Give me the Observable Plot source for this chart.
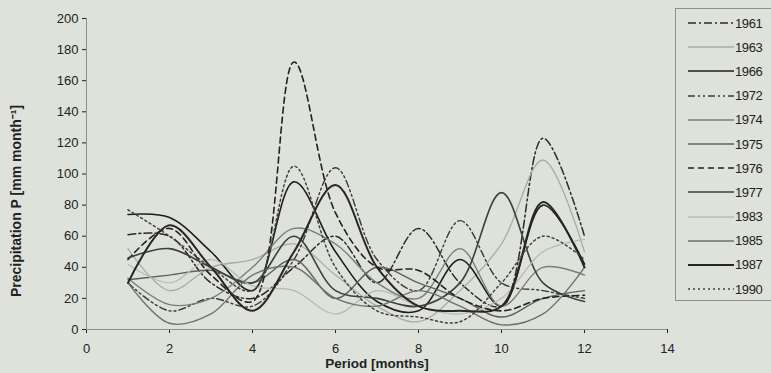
<!DOCTYPE html>
<html>
<head>
<meta charset="utf-8">
<script src="https://cdn.jsdelivr.net/npm/d3@7"></script>
<script src="https://cdn.jsdelivr.net/npm/@observablehq/plot@0.6"></script>
<style>
  html, body { margin: 0; padding: 0; background: #dee2da; overflow: hidden; }
  #wrap { position: relative; width: 771px; height: 373px; font-family: "Liberation Sans", Arial, sans-serif; }
  #legend { position: absolute; left: 675px; top: 8px; width: 100px; height: 293px; border: 1px solid #8d918b; box-sizing: border-box; padding-top: 2px; }
  .row { height: 24.2px; display: flex; align-items: center; font-size: 13px; color: #222; letter-spacing: -0.4px; }
  .row svg { margin-left: 12px; margin-right: 1px; }
</style>
</head>
<body>
<div id="wrap"><div id="chart"></div><div id="legend"></div></div>
<script>
const months = [1, 2, 3, 4, 5, 6, 7, 8, 9, 10, 11, 12];
const xTicks = [0, 2, 4, 6, 8, 10, 12, 14];
const yTicks = [0, 20, 40, 60, 80, 100, 120, 140, 160, 180, 200];
const years = ["1961", "1963", "1966", "1972", "1974", "1975", "1976", "1977", "1983", "1985", "1987", "1990"];

const p1961 = [61, 60, 30, 20, 40, 60, 30, 65, 30, 15, 123, 60];
const p1963 = [52, 25, 40, 45, 55, 35, 15, 5, 25, 55, 109, 50];
const p1966 = [74, 72, 50, 25, 95, 50, 18, 12, 45, 15, 80, 42];
const p1972 = [30, 12, 20, 15, 45, 104, 45, 25, 70, 30, 25, 20];
const p1974 = [33, 16, 20, 40, 65, 55, 30, 20, 52, 15, 40, 35];
const p1975 = [32, 35, 38, 30, 45, 20, 40, 30, 20, 8, 20, 25];
const p1976 = [45, 65, 35, 18, 172, 75, 40, 38, 20, 12, 20, 22];
const p1977 = [46, 52, 40, 30, 60, 25, 20, 15, 30, 88, 30, 18];
const p1983 = [42, 30, 45, 28, 25, 10, 25, 15, 10, 20, 50, 58];
const p1985 = [30, 4, 10, 35, 40, 20, 15, 25, 15, 3, 10, 40];
const p1987 = [30, 67, 40, 12, 50, 93, 40, 15, 12, 15, 82, 40];
const p1990 = [77, 60, 40, 25, 105, 40, 12, 8, 5, 30, 60, 45];

const values = {"1961": p1961, "1963": p1963, "1966": p1966, "1972": p1972, "1974": p1974, "1975": p1975,
  "1976": p1976, "1977": p1977, "1983": p1983, "1985": p1985, "1987": p1987, "1990": p1990};

const styles = {
  "1961": {stroke: "#2a2a2a", strokeWidth: 1.5, strokeDasharray: "8,3,2,3"},
  "1963": {stroke: "#a9aca6", strokeWidth: 1.3, strokeDasharray: null},
  "1966": {stroke: "#1e1e1e", strokeWidth: 1.6, strokeDasharray: null},
  "1972": {stroke: "#3a3a3a", strokeWidth: 1.4, strokeDasharray: "7,3,2,3,2,3"},
  "1974": {stroke: "#7a7d78", strokeWidth: 1.4, strokeDasharray: null},
  "1975": {stroke: "#5e615c", strokeWidth: 1.4, strokeDasharray: null},
  "1976": {stroke: "#222", strokeWidth: 1.6, strokeDasharray: "6,4"},
  "1977": {stroke: "#3c3f3b", strokeWidth: 1.6, strokeDasharray: null},
  "1983": {stroke: "#b8bbb5", strokeWidth: 1.3, strokeDasharray: null},
  "1985": {stroke: "#6e716c", strokeWidth: 1.4, strokeDasharray: null},
  "1987": {stroke: "#262626", strokeWidth: 2, strokeDasharray: null},
  "1990": {stroke: "#444", strokeWidth: 1.5, strokeDasharray: "2,3"}
};

const lineMarks = years.map(yr => {
  const rows = months.map((m, i) => ({month: m, p: values[yr][i]}));
  const s = styles[yr];
  const opts = {x: "month", y: "p", curve: "catmull-rom", stroke: s.stroke, strokeWidth: s.strokeWidth};
  if (s.strokeDasharray) opts.strokeDasharray = s.strokeDasharray;
  return Plot.line(rows, opts);
});

const chart = Plot.plot({
  width: 771,
  height: 373,
  marginLeft: 86,
  marginRight: 104,
  marginTop: 18,
  marginBottom: 44,
  style: {background: "#dee2da", color: "#222", fontSize: "13px", fontFamily: "Liberation Sans, Arial, sans-serif"},
  x: {domain: [0, 14], ticks: xTicks, tickSize: 4, tickPadding: 10, label: null},
  y: {domain: [0, 200], ticks: yTicks, tickSize: 4, tickPadding: 4, label: null},
  marks: [
    Plot.ruleY([0], {stroke: "#8d918b"}),
    Plot.ruleX([0], {stroke: "#8d918b"}),
    ...lineMarks,
    Plot.text(["Period [months]"], {frameAnchor: "bottom", dy: 38, fontWeight: "bold", fontSize: 13.5}),
    Plot.text(["Precipitation P [mm month⁻¹]"], {frameAnchor: "left", textAnchor: "middle", dx: -70, dy: 27, rotate: -90, fontWeight: "bold", fontSize: 14})
  ]
});
document.getElementById("chart").appendChild(chart);

const legend = document.getElementById("legend");
years.forEach(yr => {
  const s = styles[yr];
  const row = document.createElement("div");
  row.className = "row";
  const dash = s.strokeDasharray ? ` stroke-dasharray="${s.strokeDasharray}"` : "";
  row.innerHTML = `<svg width="46" height="6"><line x1="0" y1="3" x2="46" y2="3" stroke="${s.stroke}" stroke-width="${s.strokeWidth}"${dash}/></svg><span>${yr}</span>`;
  legend.appendChild(row);
});
</script>
</body>
</html>
